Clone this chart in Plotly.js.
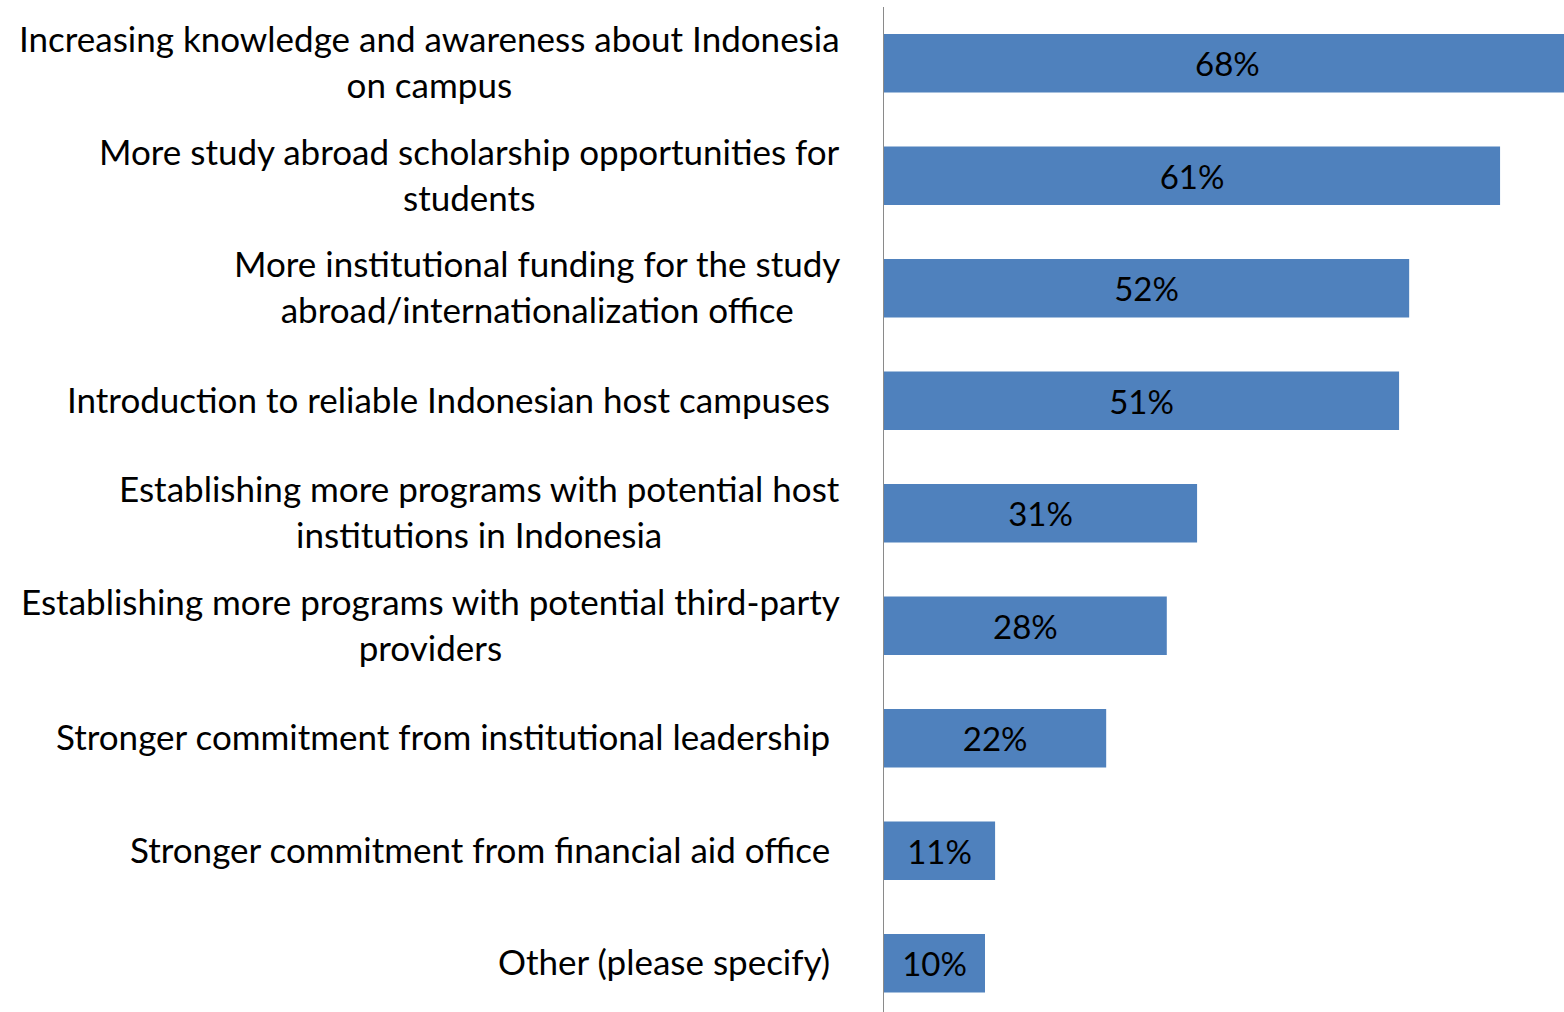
<!DOCTYPE html>
<html>
<head>
<meta charset="utf-8">
<script src="https://cdn.plot.ly/plotly-3.0.1.min.js"></script>
<style>
html,body{margin:0;padding:0;background:#fff;overflow:hidden;}
#chart{width:1564px;height:1012px;}
</style>
</head>
<body>
<div id="chart"></div>
<script>
var categories = [
  "Increasing knowledge and awareness about Indonesia<br>on campus",
  "More study abroad scholarship opportunities for<br>students",
  "More institutional funding for the study<br>abroad/internationalization office",
  "Introduction to reliable Indonesian host campuses",
  "Establishing more programs with potential host<br>institutions in Indonesia",
  "Establishing more programs with potential third-party<br>providers",
  "Stronger commitment from institutional leadership",
  "Stronger commitment from financial aid office",
  "Other (please specify)"
];
var values = [68, 61, 52, 51, 31, 28, 22, 11, 10];
var valueLabels = values.map(function(v){ return v + "%"; });

var FONT = "Lato, 'Open Sans', sans-serif";

var trace = {
  type: "bar",
  orientation: "h",
  x: values,
  y: categories,
  text: valueLabels,
  textposition: "inside",
  insidetextanchor: "middle",
  constraintext: "none",
  textfont: {family: FONT, size: 33, color: "#000000"},
  marker: {color: "#4F81BD"},
  hoverinfo: "none",
  cliponaxis: true
};

var annotations = categories.map(function(c){
  var twoLine = c.indexOf("<br>") >= 0;
  return {
    xref: "paper", yref: "y",
    x: 0, y: c,
    xanchor: "right", yanchor: "middle",
    xshift: twoLine ? -42 : -52,
    yshift: 2,
    text: c,
    align: "center",
    showarrow: false,
    font: {family: FONT, size: 35, color: "#000000"}
  };
});

var layout = {
  width: 1564, height: 1012,
  margin: {l: 884, r: 0, t: 7, b: 0, pad: 0},
  paper_bgcolor: "#ffffff",
  plot_bgcolor: "#ffffff",
  showlegend: false,
  bargap: 0.48,
  xaxis: {
    range: [0, 67.33],
    showgrid: false, zeroline: false, showline: false,
    showticklabels: false, ticks: "", fixedrange: true
  },
  yaxis: {
    type: "category",
    categoryorder: "array",
    categoryarray: categories,
    range: [8.433, -0.5],
    showgrid: false, zeroline: false,
    showline: true, linecolor: "#8a8a8a", linewidth: 1.5,
    showticklabels: false, ticks: "", fixedrange: true
  },
  annotations: annotations
};

Plotly.newPlot("chart", [trace], layout, {displayModeBar: false, staticPlot: true});
</script>
</body>
</html>
